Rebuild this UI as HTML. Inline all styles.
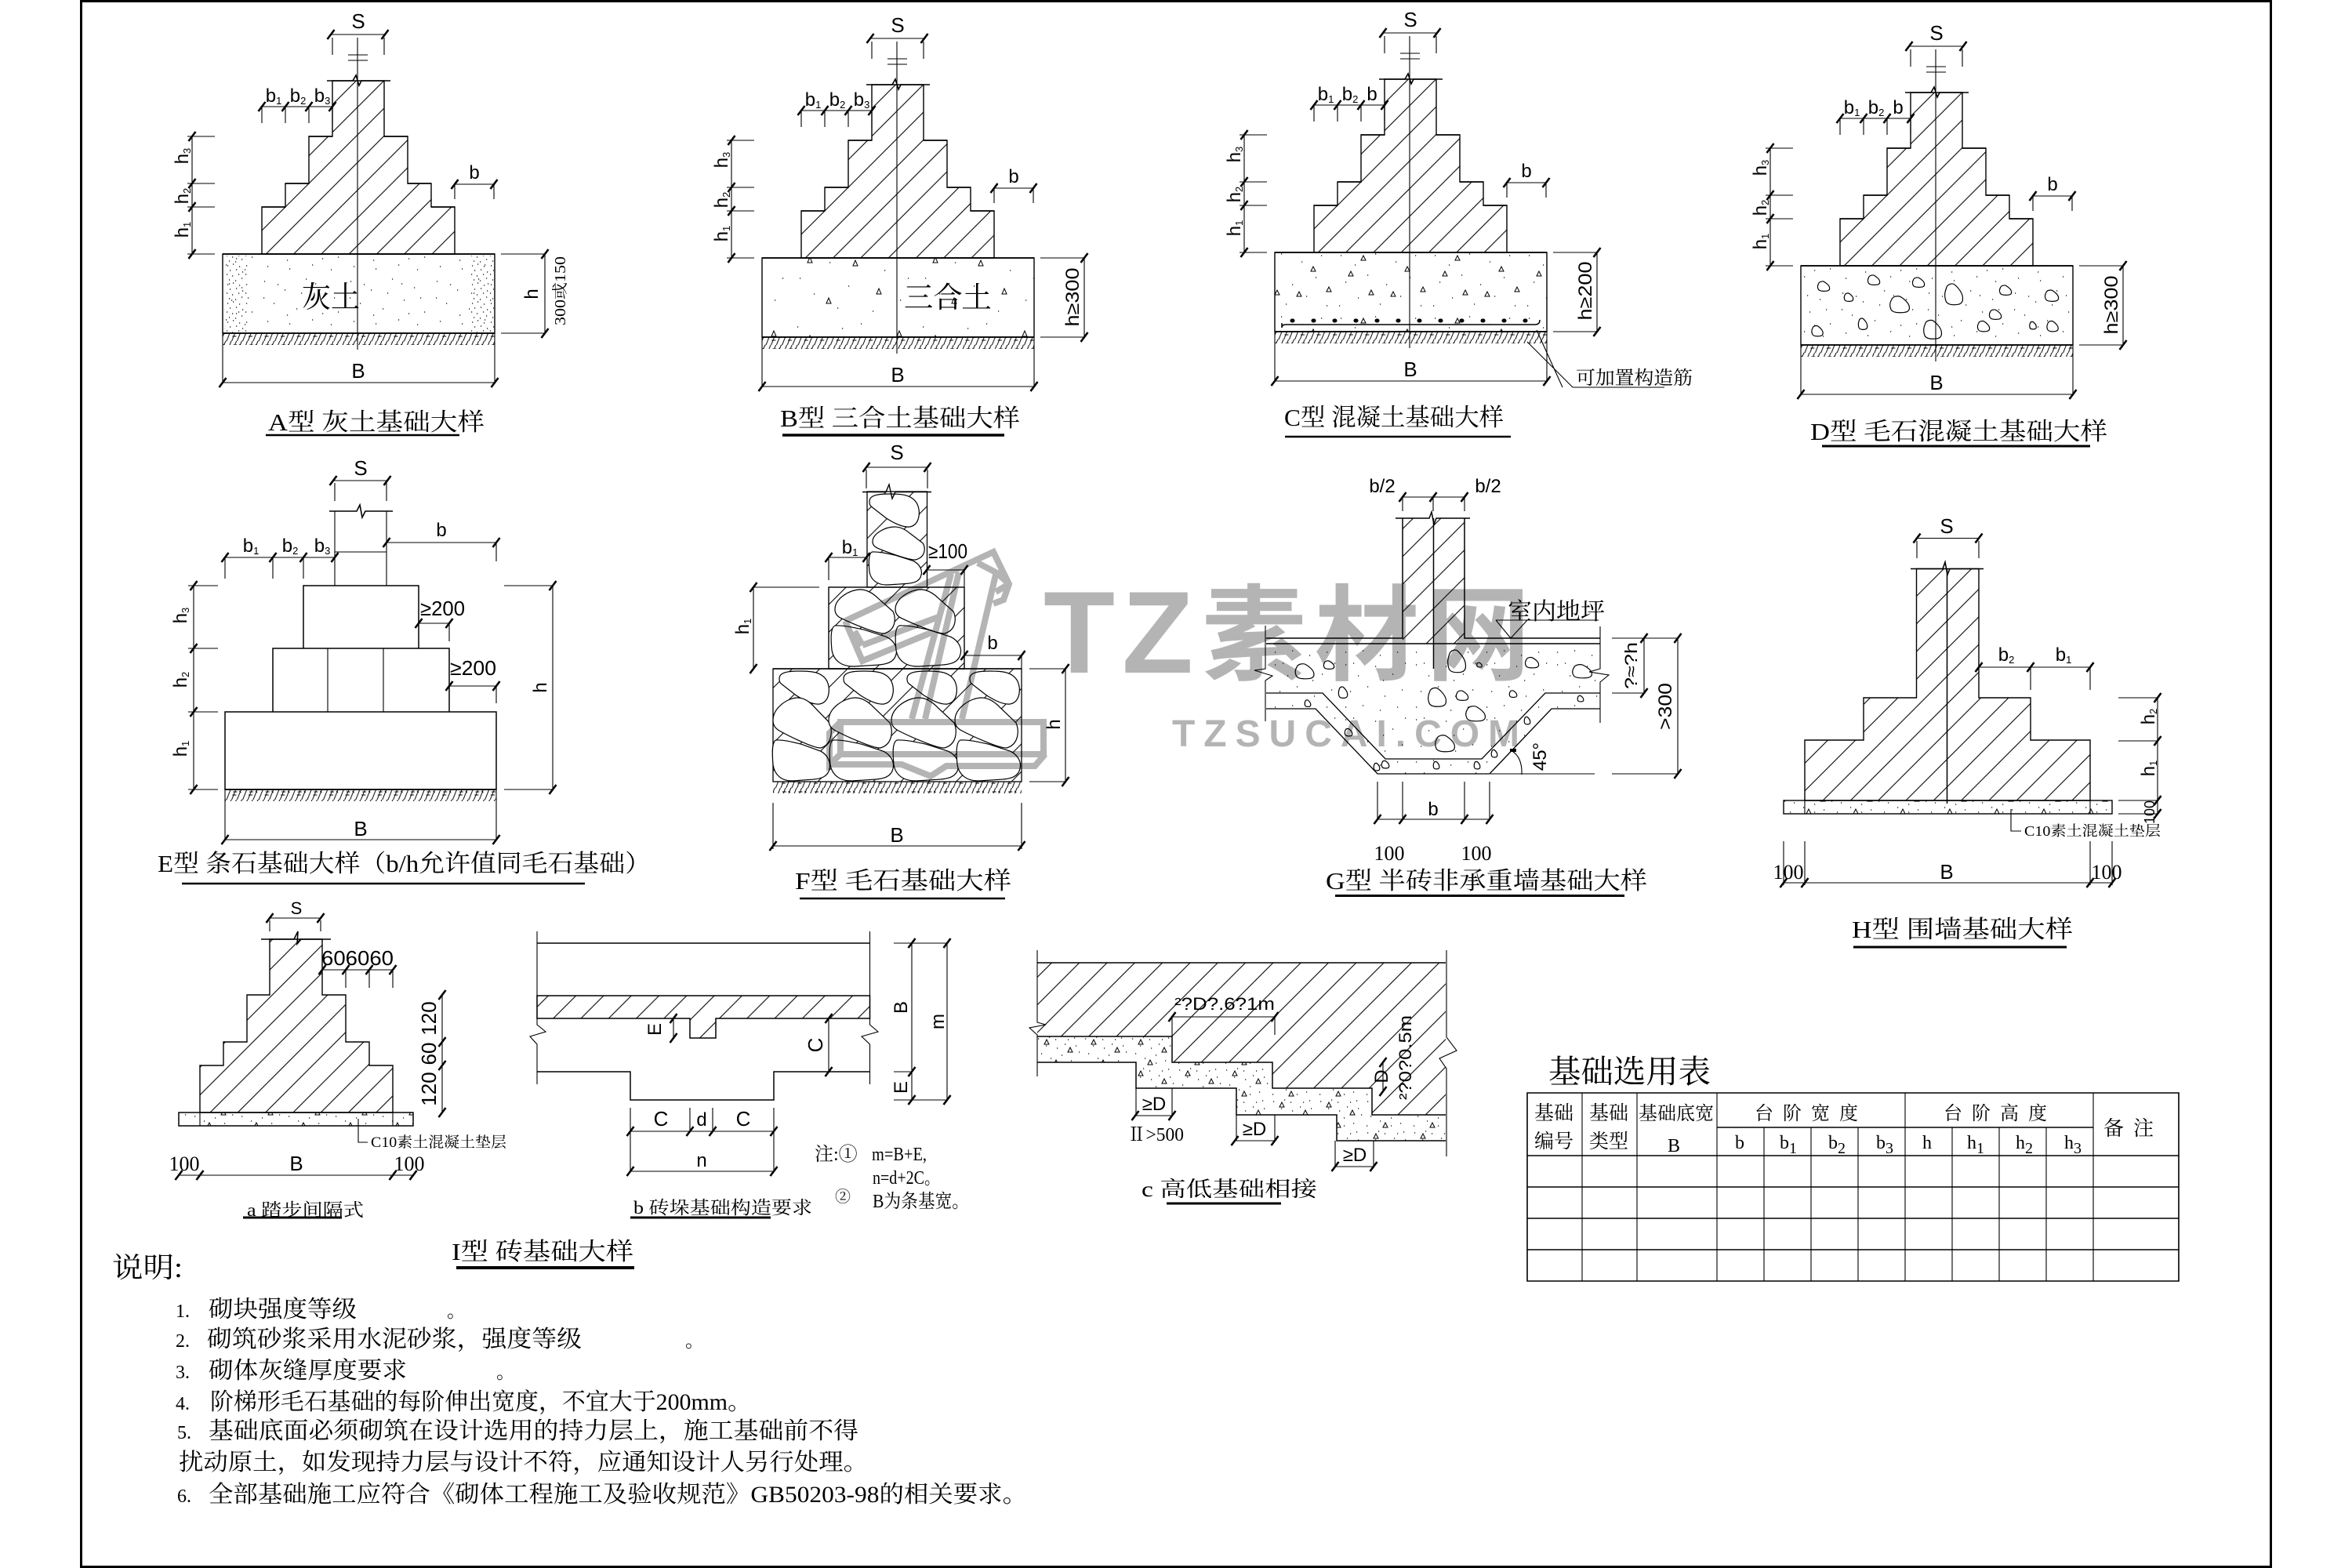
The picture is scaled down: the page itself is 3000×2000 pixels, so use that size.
<!DOCTYPE html>
<html lang="zh"><head><meta charset="utf-8"><title>基础大样</title>
<style>
html,body{margin:0;padding:0;background:#fff;width:3000px;height:2000px;overflow:hidden}
svg{display:block;font-size:24px}
text{fill:#000;stroke:none;font-family:"Liberation Sans","Noto Sans CJK SC",sans-serif}
.c{font-family:"Liberation Serif","Noto Serif CJK SC",serif}
.d{marker-start:url(#k);marker-mid:url(#k);marker-end:url(#k)}
.m{text-anchor:middle}
.st{vector-effect:non-scaling-stroke}
</style></head><body>
<svg xmlns="http://www.w3.org/2000/svg" width="3000" height="2000" viewBox="0 0 3000 2000">
<defs>
<marker id="k" markerUnits="userSpaceOnUse" markerWidth="16" markerHeight="16" refX="8" refY="8"><path d="M3.5,14 L12.5,2" stroke="#000" stroke-width="2.6" fill="none"/></marker>
<pattern id="h" patternUnits="userSpaceOnUse" width="35.3" height="35.3" patternTransform="translate(27.9,0)"><path d="M-2,2 L2,-2 M0,35.3 L35.3,0 M33.3,37.3 L37.3,33.3" stroke="#000" stroke-width="1.1" fill="none"/></pattern>
<pattern id="g" patternUnits="userSpaceOnUse" width="20.6" height="15"><path d="M-6,15 L0,0 M0.6,15 L6.600,0 M7.2,15 L13.2,0 M14,15 L20,0 M20.6,15 L26.6,0 M9,5 h5 M8,9 h5 M17,4 l2,2" stroke="#000" stroke-width="1" fill="none"/></pattern>
<pattern id="pa" patternUnits="userSpaceOnUse" width="110" height="70"><path d="M7,9h1.2M33,20h1.2M60,6h1.2M88,17h1.2M19,37h1.2M48,44h1.2M75,33h1.2M101,48h1.2M11,60h1.2M39,63h1.2M68,58h1.2M92,64h1.2M24,13h1.2M72,12h1.2M54,24h1.2M6,30h1.2M96,30h1.2M36,52h1.2M81,50h1.2" stroke="#000" stroke-width="1.2"/></pattern>
<pattern id="pd" patternUnits="userSpaceOnUse" width="24" height="24"><path d="M2,3h1.2M9,1h1.2M17,4h1.2M5,9h1.2M13,8h1.2M21,11h1.2M1,14h1.2M8,16h1.2M16,14h1.2M4,21h1.2M12,22h1.2M20,19h1.2" stroke="#000" stroke-width="1.2"/></pattern>
<pattern id="pb" patternUnits="userSpaceOnUse" width="160" height="100"><path d="M9,12h1.2M50,30h1.2M90,8h1.2M120,40h1.2M30,70h1.2M74,60h1.2M140,78h1.2M105,92h1.2M12,50h1.2M60,88h1.2M66,14h1.2M150,50h1.2" stroke="#000" stroke-width="1.2"/><path d="M22,30l3,-7l3,7zM80,34l3,-7l3,7zM136,24l3,-7l3,7zM46,82l3,-7l3,7zM110,70l3,-7l3,7z" fill="none" stroke="#000" stroke-width="1"/></pattern>
<pattern id="pc" patternUnits="userSpaceOnUse" width="120" height="80"><path d="M8,8h1.2M26,20h1.2M52,6h1.2M78,16h1.2M103,8h1.2M14,42h1.2M42,33h1.2M66,45h1.2M96,36h1.2M30,62h1.2M58,70h1.2M84,60h1.2M110,72h1.2M6,72h1.2" stroke="#000" stroke-width="1.2"/><path d="M34,14l3,-6l3,6zM90,28l3,-6l3,6zM18,34l3,-6l3,6zM72,60l3,-6l3,6zM110,54l3,-6l3,6zM44,58l3,-6l3,6z" fill="none" stroke="#000" stroke-width="1"/></pattern>
<pattern id="pe" patternUnits="userSpaceOnUse" width="60" height="40"><path d="M4,5h1.2M14,14h1.2M26,6h1.2M38,12h1.2M50,4h1.2M8,24h1.2M20,30h1.2M34,26h1.2M46,33h1.2M56,22h1.2M3,36h1.2M28,17h1.2M18,3h1.2M42,6h1.2M52,14h1.2M34,36h1.2" stroke="#000" stroke-width="1.2"/><path d="M42,22l3,-6l3,6zM12,12l3,-6l3,6zM24,38l3,-6l3,6z" fill="none" stroke="#000" stroke-width="1"/></pattern>
<pattern id="pf" patternUnits="userSpaceOnUse" width="90" height="70"><path d="M6,8h1.2M22,22h1.2M44,10h1.2M66,20h1.2M82,6h1.2M12,42h1.2M34,36h1.2M56,48h1.2M78,40h1.2M6,62h1.2M28,60h1.2M50,66h1.2M72,62h1.2M16,6h1.2M54,28h1.2" stroke="#000" stroke-width="1.2"/></pattern>
<path id="st0" class="st" d="M-.8,-.5C-.7,-.95 -.1,-1 .1,-.85C.45,-.6 .95,-.1 .95,.35C1,.8 .7,.95 .3,.97C-.1,1 -.7,1 -.85,.6C-1,.2 -.95,-.2 -.8,-.5Z" fill="#fff" stroke="#000" stroke-width="1.2"/>
<path id="sA" class="st" d="M-1,-.55C-1,-.95 -.6,-1 -.2,-1C.3,-1 .7,-.95 .9,-.4C1.05,.1 1,.9 .6,1C.3,1.05 -.1,.7 -.35,.45L-.9,-.2C-1,-.3 -1,-.45 -1,-.55Z" fill="#fff" stroke="#000" stroke-width="1.2"/>
<path id="sB" class="st" d="M-1,-.1C-1,-.6 -.5,-1 -.15,-1C.1,-1 .3,-.8 .45,-.6L.95,0C1.05,.3 1.05,.85 .65,1C.4,1.02 -.5,.5 -.8,.3C-.95,.2 -1,.05 -1,-.1Z" fill="#fff" stroke="#000" stroke-width="1.2"/>
<path id="sC" class="st" d="M-.9,-1C-.6,-1.02 -.3,-.9 0,-.8L.7,-.45C.95,-.25 1.05,.1 1,.4C.95,.8 .7,.9 .4,.93L-.3,1C-.7,1.02 -.95,.7 -1,.2C-1.03,-.3 -1.05,-.9 -.9,-1Z" fill="#fff" stroke="#000" stroke-width="1.2"/>
<g id="s">
<path fill="url(#h)" stroke-width="1.4" d="M424,103V174H394V234H364V264H334V324H580V264H550V234H520V174H490V103Z"/>
<path d="M417,103H450L454,96L458,109L461,103H498" stroke-width="1.6"/>
<path d="M394,174H424M490,174H520M364,234H394M520,234H550M334,264H364M550,264H580" stroke-width="1.6"/>
<path d="M456,48V446M444,70H469M444,77H469M424,48V70M490,48V70M334,136V157M364,136V157M394,136V157M424,136V157M580,235V254M630,235V254M239,174H274M239,234H274M239,264H274M239,324H274M639,324H695M639,425H695M284,425V488M631,425V488"/>
<path class="d" d="M422,44H491"/>
<path class="d" d="M334,136H364H394H424"/>
<path class="d" d="M580,235H630"/>
<path class="d" d="M245,174V234V264V324"/>
<path class="d" d="M695,324V425"/>
<path class="d" d="M284,488H631"/>
<rect x="284" y="324" width="347" height="101" stroke-width="1.4"/>
<rect x="284" y="425" width="347" height="15" fill="url(#g)" stroke="none"/>
<path d="M284,324H631M284,425H631" stroke-width="1.8"/>
</g>
</defs>
<rect width="3000" height="2000" fill="#fff"/>
<g fill="none" stroke="#000" stroke-width="1.1">
<rect x="103.5" y="1.5" width="2793" height="1997" stroke-width="3"/>

<!-- A -->
<g>
<rect x="284" y="324" width="347" height="101" fill="url(#pa)" stroke="none"/>
<rect x="286" y="326" width="30" height="98" fill="url(#pd)" stroke="none"/>
<rect x="600" y="326" width="30" height="98" fill="url(#pd)" stroke="none"/>
<use href="#s"/>
<text class="m" x="457" y="36" font-size="26">S</text>
<text class="m" x="349" y="130">b<tspan font-size="13" dy="3">1</tspan></text>
<text class="m" x="380" y="130">b<tspan font-size="13" dy="3">2</tspan></text>
<text class="m" x="411" y="130">b<tspan font-size="13" dy="3">3</tspan></text>
<text class="m" x="605" y="228">b</text>
<text class="m" transform="translate(240,199) rotate(-90)">h<tspan font-size="13" dy="3">3</tspan></text>
<text class="m" transform="translate(240,250) rotate(-90)">h<tspan font-size="13" dy="3">2</tspan></text>
<text class="m" transform="translate(240,293) rotate(-90)">h<tspan font-size="13" dy="3">1</tspan></text>
<text class="m" transform="translate(686,375) rotate(-90)">h</text>
<text class="c m" transform="translate(721,371) rotate(-90)" font-size="20" textLength="88" lengthAdjust="spacingAndGlyphs">300或150</text>
<text class="m" x="457" y="482" font-size="26">B</text>
<text class="c" x="385" y="392" font-size="38" textLength="74" lengthAdjust="spacingAndGlyphs">灰土</text>
<text class="c" x="342" y="549" font-size="31" textLength="276" lengthAdjust="spacingAndGlyphs">A型 灰土基础大样</text>
<path d="M339,555H586" stroke-width="2.5"/>
</g>

<!-- B -->
<g transform="translate(688,5)">
<rect x="284" y="324" width="347" height="101" fill="url(#pb)" stroke="none"/>
<use href="#s"/>
<text class="m" x="457" y="36" font-size="26">S</text>
<text class="m" x="349" y="130">b<tspan font-size="13" dy="3">1</tspan></text>
<text class="m" x="380" y="130">b<tspan font-size="13" dy="3">2</tspan></text>
<text class="m" x="411" y="130">b<tspan font-size="13" dy="3">3</tspan></text>
<text class="m" x="605" y="228">b</text>
<text class="m" transform="translate(240,199) rotate(-90)">h<tspan font-size="13" dy="3">3</tspan></text>
<text class="m" transform="translate(240,250) rotate(-90)">h<tspan font-size="13" dy="3">2</tspan></text>
<text class="m" transform="translate(240,293) rotate(-90)">h<tspan font-size="13" dy="3">1</tspan></text>
<text class="m" transform="translate(688,374) rotate(-90)" textLength="75" lengthAdjust="spacingAndGlyphs">h≥300</text>
<text class="m" x="457" y="482" font-size="26">B</text>
<text class="c" x="465" y="387" font-size="37" textLength="112" lengthAdjust="spacingAndGlyphs">三合土</text>
<text class="c" x="307" y="539" font-size="31" textLength="306" lengthAdjust="spacingAndGlyphs">B型 三合土基础大样</text>
<path d="M310,550H593" stroke-width="3.5"/>
</g>

<!-- C -->
<g transform="translate(1342,-2)">
<rect x="284" y="324" width="347" height="101" fill="url(#pc)" stroke="none"/>
<use href="#s"/>
<path d="M293,414V420Q293,416 298,416H616Q622,416 622,410" stroke-width="1.5"/>
<path d="M306,411h1M333,411h1M360,411h1M387,411h1M414,411h1M441,411h1M468,411h1M495,411h1M522,411h1M549,411h1M576,411h1M603,411h1" stroke-width="5" stroke-linecap="round"/>
<path d="M606,438L664,496H781M618,423L651,496"/>
<text class="m" x="457" y="36" font-size="26">S</text>
<text class="m" x="349" y="130">b<tspan font-size="13" dy="3">1</tspan></text>
<text class="m" x="380" y="130">b<tspan font-size="13" dy="3">2</tspan></text>
<text class="m" x="408" y="130">b</text>
<text class="m" x="605" y="228">b</text>
<text class="m" transform="translate(240,199) rotate(-90)">h<tspan font-size="13" dy="3">3</tspan></text>
<text class="m" transform="translate(240,250) rotate(-90)">h<tspan font-size="13" dy="3">2</tspan></text>
<text class="m" transform="translate(240,293) rotate(-90)">h<tspan font-size="13" dy="3">1</tspan></text>
<text class="m" transform="translate(688,373) rotate(-90)" textLength="75" lengthAdjust="spacingAndGlyphs">h≥200</text>
<text class="m" x="457" y="482" font-size="26">B</text>
<text class="c" x="668" y="492" font-size="24" textLength="149" lengthAdjust="spacingAndGlyphs">可加置构造筋</text>
<text class="c" x="296" y="545" font-size="31" textLength="280" lengthAdjust="spacingAndGlyphs">C型 混凝土基础大样</text>
<path d="M297,559H585" stroke-width="2.5"/>
</g>

<!-- D -->
<g transform="translate(2013,15)">
<rect x="284" y="324" width="347" height="101" fill="url(#pa)" stroke="none"/>
</g>
<g>
<use href="#st0" transform="translate(2326,365) scale(8,6.5)"/>
<use href="#st0" transform="translate(2390,357) scale(8,6.5)"/>
<use href="#st0" transform="translate(2447,360) scale(8,6.5)"/>
<use href="#st0" transform="translate(2492,375) scale(12,14)"/>
<use href="#st0" transform="translate(2558,370) scale(8,6.5)"/>
<use href="#st0" transform="translate(2617,377) scale(9,7.5)"/>
<use href="#st0" transform="translate(2358,379) scale(6,5.5)"/>
<use href="#st0" transform="translate(2423,388) scale(13,11)"/>
<use href="#st0" transform="translate(2545,401) scale(8,6.5)"/>
<use href="#st0" transform="translate(2376,413) scale(6,7.5)"/>
<use href="#st0" transform="translate(2465,420) scale(12,12.5)"/>
<use href="#st0" transform="translate(2530,416) scale(8,7)"/>
<use href="#st0" transform="translate(2593,415) scale(4.5,5)"/>
<use href="#st0" transform="translate(2618,416) scale(7.5,7)"/>
<use href="#st0" transform="translate(2318,422) scale(7.5,7)"/>
</g>
<g transform="translate(2013,15)">
<use href="#s"/>
<text class="m" x="457" y="36" font-size="26">S</text>
<text class="m" x="349" y="130">b<tspan font-size="13" dy="3">1</tspan></text>
<text class="m" x="380" y="130">b<tspan font-size="13" dy="3">2</tspan></text>
<text class="m" x="408" y="130">b</text>
<text class="m" x="605" y="228">b</text>
<text class="m" transform="translate(240,199) rotate(-90)">h<tspan font-size="13" dy="3">3</tspan></text>
<text class="m" transform="translate(240,250) rotate(-90)">h<tspan font-size="13" dy="3">2</tspan></text>
<text class="m" transform="translate(240,293) rotate(-90)">h<tspan font-size="13" dy="3">1</tspan></text>
<text class="m" transform="translate(688,374) rotate(-90)" textLength="75" lengthAdjust="spacingAndGlyphs">h≥300</text>
<text class="m" x="457" y="482" font-size="26">B</text>
<text class="c" x="296" y="546" font-size="31" textLength="379" lengthAdjust="spacingAndGlyphs">D型 毛石混凝土基础大样</text>
<path d="M311,554H653" stroke-width="3"/>
</g>

<!-- E -->
<g>
<path d="M427,652V747M493,652V747M427,704H493M427,616V639M493,616V639M287,711V738M348,711V738M387,711V738M633,692V716M573,795V818M633,875V897M240,747H278M240,827H278M240,908H278M240,1007H278M643,747H705M643,1007H705M287,1007V1071M633,1007V1071M418,827V908M489,827V908"/>
<path d="M420,652H455L459,644L462,660L466,652H501" stroke-width="1.6"/>
<path d="M387,747H534V827H387ZM348,827H573V908H348ZM287,908H633V1007H287Z" stroke-width="1.5"/>
<rect x="287" y="1007" width="346" height="15" fill="url(#g)" stroke="none"/>
<path d="M287,1007H633" stroke-width="1.8"/>
<path class="d" d="M425,613H494"/>
<path class="d" d="M287,711H348H387H427"/>
<path class="d" d="M493,692H633"/>
<path class="d" d="M534,795H573"/>
<path class="d" d="M573,875H633"/>
<path class="d" d="M247,747V827V908V1007"/>
<path class="d" d="M705,747V1007"/>
<path class="d" d="M287,1071H633"/>
<text class="m" x="460" y="606" font-size="26">S</text>
<text class="m" x="320" y="704">b<tspan font-size="13" dy="3">1</tspan></text>
<text class="m" x="370" y="704">b<tspan font-size="13" dy="3">2</tspan></text>
<text class="m" x="411" y="704">b<tspan font-size="13" dy="3">3</tspan></text>
<text class="m" x="563" y="684">b</text>
<text x="536" y="785" font-size="26" textLength="57" lengthAdjust="spacingAndGlyphs">≥200</text>
<text x="574" y="861" font-size="26" textLength="59" lengthAdjust="spacingAndGlyphs">≥200</text>
<text class="m" transform="translate(238,785) rotate(-90)">h<tspan font-size="13" dy="3">3</tspan></text>
<text class="m" transform="translate(238,867) rotate(-90)">h<tspan font-size="13" dy="3">2</tspan></text>
<text class="m" transform="translate(238,955) rotate(-90)">h<tspan font-size="13" dy="3">1</tspan></text>
<text class="m" transform="translate(697,877) rotate(-90)">h</text>
<text class="m" x="460" y="1066" font-size="26">B</text>
<text class="c" x="201" y="1112" font-size="31" textLength="629" lengthAdjust="spacingAndGlyphs">E型 条石基础大样（b/h允许值同毛石基础）</text>
<path d="M232,1127H746" stroke-width="2.5"/>
</g>

<!-- F -->
<g>
<rect x="1106" y="627" width="76.500" height="122" fill="url(#h)" stroke="#000" stroke-width="1.3"/>
<rect x="1057" y="749" width="173" height="104" fill="url(#h)" stroke="#000" stroke-width="1.4"/>
<rect x="986" y="853" width="317" height="144" fill="url(#h)" stroke="#000" stroke-width="1.3"/>
<use href="#sA" transform="translate(1141,651) scale(32,21)"/>
<use href="#sB" transform="translate(1146,693) scale(33,21)"/>
<use href="#sC" transform="translate(1142,725) scale(33,21)"/>
<use href="#sB" transform="translate(1103,780) scale(38,28)"/>
<use href="#sB" transform="translate(1180,780) scale(38,28)"/>
<use href="#sC" transform="translate(1102,824) scale(41,26)"/>
<use href="#sC" transform="translate(1184,824) scale(41,26)"/>
<use href="#sA" transform="translate(1026,877) scale(32,21)"/>
<use href="#sA" transform="translate(1108,877) scale(32,21)"/>
<use href="#sA" transform="translate(1189,877) scale(32,21)"/>
<use href="#sA" transform="translate(1269,877) scale(32,21)"/>
<use href="#sB" transform="translate(1023,922) scale(37,32)"/>
<use href="#sB" transform="translate(1097,922) scale(40,32)"/>
<use href="#sB" transform="translate(1178,922) scale(41,32)"/>
<use href="#sB" transform="translate(1258,922) scale(40,32)"/>
<use href="#sC" transform="translate(1022,970) scale(36,26)"/>
<use href="#sC" transform="translate(1099,970) scale(40,26)"/>
<use href="#sC" transform="translate(1181,970) scale(41,26)"/>
<use href="#sC" transform="translate(1261,970) scale(40,26)"/>
<rect x="986" y="997" width="317" height="15" fill="url(#g)" stroke="none"/>
<path d="M986,853H1303" stroke-width="1.6"/>
<path d="M1100,627.500H1130L1134,618L1138,636L1142,627.500H1188" stroke-width="1.4"/>
<path d="M1105,599V623M1183,599V623M1057,711V740M961,749H1045M1230,727V749M1303,836V853M1313,853H1359M1313,997H1359M986,1024V1083M1303,1024V1083"/>
<path class="d" d="M1105,596H1183"/>
<path class="d" d="M1057,711H1105"/>
<path class="d" d="M1182,727H1230"/>
<path class="d" d="M1230,836H1303"/>
<path class="d" d="M961,749V853"/>
<path class="d" d="M1359,853V997"/>
<path class="d" d="M986,1079H1303"/>
<text class="m" x="1144" y="586" font-size="26">S</text>
<text class="m" x="1084" y="706">b<tspan font-size="13" dy="3">1</tspan></text>
<text x="1184" y="712" font-size="26" textLength="50" lengthAdjust="spacingAndGlyphs">≥100</text>
<text class="m" x="1266" y="828">b</text>
<text class="m" transform="translate(955,799) rotate(-90)">h<tspan font-size="13" dy="3">1</tspan></text>
<text class="m" transform="translate(1352,924) rotate(-90)">h</text>
<text class="m" x="1144" y="1074" font-size="26">B</text>
<text class="c" x="1014" y="1134" font-size="31" textLength="276" lengthAdjust="spacingAndGlyphs">F型 毛石基础大样</text>
<path d="M1020,1146H1282" stroke-width="2.5"/>
</g>

<!-- G -->
<g>
<path d="M1615,821H2041V904H1979L1900,987H1757L1678,904H1615Z" fill="url(#pf)" stroke="none"/>
<rect x="1789" y="661" width="79" height="160" fill="url(#h)" stroke="none"/>
<use href="#st0" transform="translate(1664,856) scale(12.500,10)"/>
<use href="#st0" transform="translate(1695,848) scale(7,5.500)"/>
<use href="#st0" transform="translate(1858,843) scale(12,15)"/>
<use href="#st0" transform="translate(1887,848) scale(3.500,3)"/>
<use href="#st0" transform="translate(1954,845) scale(9,7)"/>
<use href="#st0" transform="translate(2018,856) scale(13,9)"/>
<use href="#st0" transform="translate(1713,883) scale(6,7.500)"/>
<use href="#st0" transform="translate(1833,889) scale(12,12.500)"/>
<use href="#st0" transform="translate(1865,887) scale(8,6.500)"/>
<use href="#st0" transform="translate(1930,885) scale(5,4.500)"/>
<use href="#st0" transform="translate(1882,910) scale(13,10)"/>
<use href="#st0" transform="translate(1843,948) scale(13,11)"/>
<use href="#st0" transform="translate(1668,897) scale(4,4.500)"/>
<use href="#st0" transform="translate(2016,891) scale(4,4)"/>
<use href="#st0" transform="translate(1720,934) scale(5,5)"/>
<use href="#st0" transform="translate(1948,919) scale(4,5)"/>
<use href="#st0" transform="translate(1906,961) scale(4,5)"/>
<use href="#st0" transform="translate(1767,975) scale(5,5)"/>
<use href="#st0" transform="translate(1756,978) scale(4,5)"/>
<use href="#st0" transform="translate(1832,976) scale(4,5)"/>
<use href="#st0" transform="translate(1884,976) scale(4,5)"/>
<path d="M1780,661H1823L1826,653L1829,669L1832,661H1875M1615,814H1789V661M1868,661V814H2041M1615,821H2041" stroke-width="1.5"/>
<path d="M1828.500,661V853" stroke-width="1.5"/>
<path d="M1615,884H1687L1767,968H1890L1971,884H2041M1615,904H1678L1757,987H1900L1979,904H2041" stroke-width="1.3"/>
<path d="M1614,798V853L1600,855L1623,862L1614,868V920M2041,799V853L2027,857L2052,861L2041,870V922"/>
<path d="M1908,791H2039M1908,791L1927,814L1948,791"/>
<path d="M1789,634V652M1828,634V652M1868,634V652M1757,997V1045M1789,997V1045M1868,997V1045M1900,997V1045M2056,814H2140M2056,884H2097M2056,987H2140M1901,987H2034"/>
<path d="M1927,957Q1942,965 1941,988"/>
<path d="M1926,957h8" stroke-width="4"/>
<path class="d" d="M1789,634H1828H1868"/>
<path class="d" d="M1757,1045H1789H1868H1900"/>
<path class="d" d="M2097,814V884"/>
<path class="d" d="M2140,814V987"/>
<text class="m" x="1763" y="628" font-size="24">b/2</text>
<text class="m" x="1898" y="628" font-size="24">b/2</text>
<text class="c" x="1923" y="790" font-size="30" textLength="124" lengthAdjust="spacingAndGlyphs">室内地坪</text>
<text class="m" transform="translate(2088,849) rotate(-90)" font-size="22" textLength="60" lengthAdjust="spacingAndGlyphs">?≈?h</text>
<text class="m" transform="translate(2132,901) rotate(-90)" textLength="60" lengthAdjust="spacingAndGlyphs">&gt;300</text>
<text class="m" transform="translate(1972,965) rotate(-90)">45°</text>
<text class="m" x="1828" y="1040">b</text>
<text class="c m" x="1772" y="1097" font-size="26">100</text>
<text class="c m" x="1883" y="1097" font-size="26">100</text>
<text class="c" x="1691" y="1134" font-size="31" textLength="410" lengthAdjust="spacingAndGlyphs">G型 半砖非承重墙基础大样</text>
<path d="M1703,1142.500H2072" stroke-width="3"/>
</g>

<!-- H -->
<g>
<path d="M2444.500,725.500H2524V890H2590V944H2666V1021H2302V944H2377V890H2444.500Z" fill="url(#h)" stroke-width="1.4"/>
<path d="M2437,725.500H2478L2481,717L2484,733L2487,725.500H2530" stroke-width="1.6"/>
<path d="M2483.500,725.500V1025" stroke-width="1.5"/>
<rect x="2275" y="1021" width="419" height="17" fill="url(#pe)" stroke-width="1.4"/>
<path d="M2302,1021V1038M2666,1021V1038M2445,690V712M2524,690V712M2590,851V880M2666,851V880M2702,890H2752M2702,945H2752M2702,1021H2752M2702,1038H2752M2275,1073V1129M2302,1073V1129M2666,1073V1129M2694,1073V1129M2565,1032V1060H2578"/>
<path class="d" d="M2445,686.500H2524"/>
<path class="d" d="M2524,851H2590H2666"/>
<path class="d" d="M2752,890V945V1021V1038"/>
<path class="d" d="M2275,1126H2302H2666H2694"/>
<text class="m" x="2483" y="680" font-size="26">S</text>
<text class="m" x="2559" y="843">b<tspan font-size="13" dy="3">2</tspan></text>
<text class="m" x="2632" y="843">b<tspan font-size="13" dy="3">1</tspan></text>
<text class="m" transform="translate(2748,914) rotate(-90)">h<tspan font-size="13" dy="3">2</tspan></text>
<text class="m" transform="translate(2748,980) rotate(-90)">h<tspan font-size="13" dy="3">1</tspan></text>
<text class="m" transform="translate(2748,1036) rotate(-90)" font-size="18">100</text>
<text class="c" x="2582" y="1066" font-size="18" textLength="174" lengthAdjust="spacingAndGlyphs">C10素土混凝土垫层</text>
<text class="c m" x="2281" y="1121" font-size="26">100</text>
<text class="m" x="2483" y="1121" font-size="26">B</text>
<text class="c m" x="2687" y="1121" font-size="26">100</text>
<text class="c" x="2362" y="1196" font-size="31" textLength="282" lengthAdjust="spacingAndGlyphs">H型 围墙基础大样</text>
<path d="M2364,1208H2636" stroke-width="3"/>
</g>

<!-- I-a -->
<g>
<path d="M344,1198V1269H315V1329H285V1359H255V1419H501V1359H471V1329H441V1269H411V1198Z" fill="url(#h)" stroke-width="1.4"/>
<path d="M333,1198H375L380,1188L379,1204L384,1198H422" stroke-width="1.6"/>
<rect x="228" y="1419" width="299" height="17" fill="url(#pe)" stroke-width="1.5"/>
<path d="M255,1419V1436M501,1419V1436M344,1174V1188M409,1174V1188M441,1237V1260M471,1237V1260M501,1237V1260M457,1427V1457H469"/>
<path class="d" d="M344,1171H409"/>
<path class="d" d="M411,1237H441H471H501"/>
<path class="d" d="M564,1269V1329V1359V1419"/>
<path class="d" d="M228,1499H255H501H527"/>
<text class="m" x="378" y="1166" font-size="22">S</text>
<text class="m" x="456" y="1231" font-size="26" textLength="92" lengthAdjust="spacingAndGlyphs">606060</text>
<text class="m" transform="translate(556,1299) rotate(-90)" font-size="26">120</text>
<text class="m" transform="translate(556,1344) rotate(-90)" font-size="26">60</text>
<text class="m" transform="translate(556,1389) rotate(-90)" font-size="26">120</text>
<text class="c" x="473" y="1463" font-size="19" textLength="173" lengthAdjust="spacingAndGlyphs">C10素土混凝土垫层</text>
<text class="c m" x="235" y="1493" font-size="26">100</text>
<text class="m" x="378" y="1493" font-size="26">B</text>
<text class="c m" x="522" y="1493" font-size="26">100</text>
<text class="c" x="315" y="1551" font-size="23" textLength="149" lengthAdjust="spacingAndGlyphs">a 踏步间隔式</text>
<path d="M310,1553H436" stroke-width="3"/>
</g>

<!-- I-b -->
<g>
<path d="M685,1270H1109.500V1299H913V1324H880V1299H685Z" fill="url(#h)" stroke-width="1.5"/>
<path d="M685,1188V1307L696,1316L676,1322L685,1332V1383M1109.500,1188V1307L1120,1316L1099,1322L1109.500,1332V1383"/>
<path d="M685,1203H1109M685,1367H804V1403H987V1367H1109" stroke-width="1.5"/>
<path d="M1140,1203H1208M1140,1367H1163M1140,1403H1208M804,1413V1494M880,1413V1443M909,1413V1443M987,1413V1494"/>
<path class="d" d="M859,1299V1324"/>
<path class="d" d="M1057,1299V1367"/>
<path class="d" d="M1163,1203V1367V1403"/>
<path class="d" d="M1208,1203V1403"/>
<path class="d" d="M804,1443H880H909H987"/>
<path class="d" d="M804,1494H987"/>
<text class="m" transform="translate(843,1313) rotate(-90)">E</text>
<text class="m" transform="translate(1049,1333) rotate(-90)" font-size="26">C</text>
<text class="m" transform="translate(1157,1285) rotate(-90)">B</text>
<text class="m" transform="translate(1157,1387) rotate(-90)">E</text>
<text class="m" transform="translate(1204,1303) rotate(-90)">m</text>
<text class="m" x="843" y="1436" font-size="26">C</text>
<text class="m" x="895" y="1436">d</text>
<text class="m" x="948" y="1436" font-size="26">C</text>
<text class="m" x="895" y="1488">n</text>
<text class="c" x="1039" y="1480" font-size="24">注:①</text>
<text class="c" x="1112" y="1480" font-size="24" textLength="70" lengthAdjust="spacingAndGlyphs">m=B+E,</text>
<text class="c" x="1113" y="1510" font-size="24" textLength="86" lengthAdjust="spacingAndGlyphs">n=d+2C。</text>
<text class="c" x="1065" y="1533" font-size="20">②</text>
<text class="c" x="1113" y="1540" font-size="24" textLength="123" lengthAdjust="spacingAndGlyphs">B为条基宽。</text>
<text class="c" x="808" y="1548" font-size="23" textLength="228" lengthAdjust="spacingAndGlyphs">b 砖垛基础构造要求</text>
<path d="M804,1553H983" stroke-width="3"/>
<text class="c" x="576" y="1607" font-size="31" textLength="232" lengthAdjust="spacingAndGlyphs">I型 砖基础大样</text>
<path d="M582,1617H809" stroke-width="4"/>
</g>

<!-- I-c -->
<g>
<path d="M1323,1228H1844V1422H1750V1388H1623V1355H1495V1322H1323Z" fill="url(#h)" stroke="none"/>
<path d="M1323,1322H1495V1355H1623V1388H1750V1422H1844V1455H1705V1422H1577V1388H1449V1355H1323Z" fill="url(#pe)" stroke="none"/>
<path d="M1323,1228H1844M1323,1322H1495V1355H1623V1388H1750V1422H1844M1323,1355H1449V1388H1577V1422H1705V1455H1844" stroke-width="1.5"/>
<path d="M1323,1212V1304L1334,1307L1313,1311L1323,1320V1373M1845,1212V1323L1858,1340L1836,1350L1845,1363V1475"/>
<path d="M1495,1297V1322M1626,1297V1320M1449,1388V1423M1495,1388V1423M1577,1422V1455M1626,1422V1455M1703,1455V1488M1752,1455V1488"/>
<path class="d" d="M1495,1297H1626"/>
<path class="d" d="M1764,1355V1392"/>
<path class="d" d="M1448,1423H1495"/>
<path class="d" d="M1575,1455H1626"/>
<path class="d" d="M1703,1488H1752"/>
<text x="1498" y="1288" font-size="22" textLength="128" lengthAdjust="spacingAndGlyphs">²?D?.6?1m</text>
<text class="m" transform="translate(1800,1349) rotate(-90)" font-size="22" textLength="108" lengthAdjust="spacingAndGlyphs">²?0?0.5m</text>
<text class="m" transform="translate(1770,1373) rotate(-90)">D</text>
<text class="m" x="1472" y="1416" font-size="24">≥D</text>
<text class="m" x="1600" y="1448" font-size="24">≥D</text>
<text class="m" x="1728" y="1481" font-size="24">≥D</text>
<text class="c" x="1438" y="1455" font-size="24" textLength="72" lengthAdjust="spacingAndGlyphs">Ⅱ&gt;500</text>
<text class="c" x="1456" y="1526" font-size="27" textLength="224" lengthAdjust="spacingAndGlyphs">c 高低基础相接</text>
<path d="M1488,1535H1634" stroke-width="3"/>
</g>

<!-- Table -->
<g>
<text class="c" x="1975" y="1381" font-size="41" textLength="207" lengthAdjust="spacingAndGlyphs">基础选用表</text>
<path d="M1948,1394H2779V1634H1948ZM1948,1474H2779M1948,1514H2779M1948,1554H2779M1948,1594H2779M2190,1438H2670" stroke-width="1.6"/>
<path d="M2018,1394V1634M2088,1394V1634M2190,1394V1634M2430,1394V1634M2670,1394V1634M2250,1438V1634M2310,1438V1634M2370,1438V1634M2490,1438V1634M2550,1438V1634M2610,1438V1634"/>
<text class="c m" x="1982" y="1428" font-size="25">基础</text>
<text class="c m" x="1982" y="1464" font-size="25">编号</text>
<text class="c m" x="2052" y="1428" font-size="25">基础</text>
<text class="c m" x="2052" y="1464" font-size="25">类型</text>
<text class="c m" x="2138" y="1428" font-size="24">基础底宽</text>
<text class="c m" x="2135" y="1469" font-size="24">B</text>
<text class="c m" x="2310" y="1428" font-size="24" letter-spacing="12">台阶宽度</text>
<text class="c m" x="2551" y="1428" font-size="24" letter-spacing="12">台阶高度</text>
<text class="c m" x="2721" y="1448" font-size="26" letter-spacing="12">备注</text>
<text class="c m" x="2219" y="1465">b</text>
<text class="c m" x="2281" y="1465">b<tspan font-size="20" dy="6">1</tspan></text>
<text class="c m" x="2343" y="1465">b<tspan font-size="20" dy="6">2</tspan></text>
<text class="c m" x="2404" y="1465">b<tspan font-size="20" dy="6">3</tspan></text>
<text class="c m" x="2458" y="1465">h</text>
<text class="c m" x="2520" y="1465">h<tspan font-size="20" dy="6">1</tspan></text>
<text class="c m" x="2582" y="1465">h<tspan font-size="20" dy="6">2</tspan></text>
<text class="c m" x="2644" y="1465">h<tspan font-size="20" dy="6">3</tspan></text>
</g>

<!-- Notes -->
<g>
<text class="c" x="143" y="1629" font-size="36" textLength="90" lengthAdjust="spacingAndGlyphs">说明:</text>
<text class="c" x="224" y="1680" font-size="24">1.</text>
<text class="c" x="266" y="1680" font-size="30" textLength="189" lengthAdjust="spacingAndGlyphs">砌块强度等级</text>
<text class="c" x="570" y="1680" font-size="24">。</text>
<text class="c" x="224" y="1718" font-size="24">2.</text>
<text class="c" x="264" y="1718" font-size="30" textLength="478" lengthAdjust="spacingAndGlyphs">砌筑砂浆采用水泥砂浆，强度等级</text>
<text class="c" x="874" y="1718" font-size="24">。</text>
<text class="c" x="224" y="1758" font-size="24">3.</text>
<text class="c" x="266" y="1758" font-size="30" textLength="253" lengthAdjust="spacingAndGlyphs">砌体灰缝厚度要求</text>
<text class="c" x="633" y="1758" font-size="24">。</text>
<text class="c" x="224" y="1798" font-size="24">4.</text>
<text class="c" x="268" y="1798" font-size="30" textLength="690" lengthAdjust="spacingAndGlyphs">阶梯形毛石基础的每阶伸出宽度，不宜大于200mm。</text>
<text class="c" x="226" y="1835" font-size="24">5.</text>
<text class="c" x="266" y="1835" font-size="30" textLength="829" lengthAdjust="spacingAndGlyphs">基础底面必须砌筑在设计选用的持力层上，施工基础前不得</text>
<text class="c" x="228" y="1875" font-size="30" textLength="879" lengthAdjust="spacingAndGlyphs">扰动原土，如发现持力层与设计不符，应通知设计人另行处理。</text>
<text class="c" x="226" y="1916" font-size="24">6.</text>
<text class="c" x="266" y="1916" font-size="30" textLength="1044" lengthAdjust="spacingAndGlyphs">全部基础施工应符合《砌体工程施工及验收规范》GB50203-98的相关要求。</text>
</g>
</g>

<!-- Watermark -->
<g style="mix-blend-mode:multiply">
<g fill="none" stroke="#b4b4b4" stroke-width="8" stroke-linejoin="miter">
<path d="M1078,792L1267,704L1287,745L1280,765L1267,770M1247,718L1272,731L1287,745M1270,755L1287,745"/>
<path d="M1078,792L1100,843L1190,806M1100,823L1197,787M1090,805L1100,823"/>
<path d="M1213,732L1163,917M1223,730L1180,917M1270,733L1227,917"/>
<path d="M1072,921H1331V962H1072ZM1072,921L1058,935V975L1072,962M1058,975H1150L1187,990L1207,977H1320L1333,962"/>
</g>
<text x="1331 1431" y="858" font-size="149" font-weight="bold" style="fill:#b4b4b4">TZ</text>
<text x="1533 1677 1819" y="857" font-size="133" font-weight="bold" style="fill:#b4b4b4;font-family:'Noto Sans CJK SC',sans-serif">素材网</text>
<text x="1495" y="952" font-size="48" font-weight="bold" style="fill:#b4b4b4" textLength="443" lengthAdjust="spacing">TZSUCAI.COM</text>
</g>
</svg>
</body></html>
